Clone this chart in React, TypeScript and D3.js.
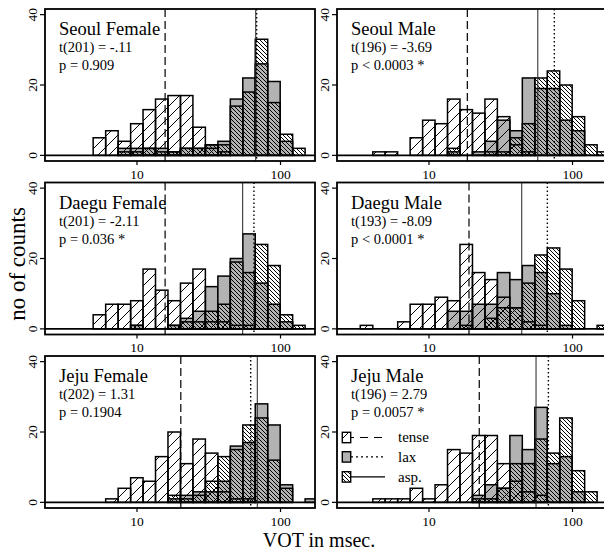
import React from 'react';
import * as d3 from 'd3';

// ---------- data ----------
const panelTitles = ["Seoul Female", "Seoul Male", "Daegu Female", "Daegu Male", "Jeju Female", "Jeju Male"];
const tStats = ["t(201) = -.11", "t(196) = -3.69", "t(201) = -2.11", "t(193) = -8.09", "t(202) = 1.31", "t(196) = 2.79"];
const pStats = ["p = 0.909", "p < 0.0003 *", "p = 0.036 *", "p < 0.0001 *", "p = 0.1904", "p = 0.0057 *"];

// histogram bin edges (msec, equal width on a log scale)
const binEdges = [3.32, 4.06, 4.95, 6.05, 7.39, 9.03, 11.02, 13.46, 16.44, 20.09, 24.53, 29.96, 36.60, 44.70, 54.60, 66.69, 81.45, 99.48, 121.5, 148.4, 181.3];

const seoulFemaleTense = [0, 0, 5, 7, 4, 9, 13, 16, 17, 17, 8, 2, 1, 0, 0, 0, 0, 0, 0, 0];
const seoulFemaleLax = [0, 0, 0, 0, 2, 2, 2, 2, 1, 2, 2, 3, 4, 16, 22, 26, 21, 4, 0, 0];
const seoulFemaleAsp = [0, 0, 0, 0, 1, 1, 2, 1, 1, 2, 2, 3, 3, 14, 18, 33, 15, 6, 2, 0];

const seoulMaleTense = [0, 1, 1, 0, 5, 10, 9, 16, 13, 12, 16, 11, 3, 1, 0, 0, 0, 0, 0, 0];
const seoulMaleLax = [0, 0, 0, 0, 0, 0, 0, 1, 0, 1, 4, 10, 7, 22, 19, 19, 10, 7, 0, 0];
const seoulMaleAsp = [0, 0, 0, 0, 0, 0, 0, 2, 0, 0, 1, 1, 5, 9, 22, 24, 20, 11, 3, 1];

const daeguFemaleTense = [0, 0, 4, 7, 7, 8, 17, 11, 8, 13, 17, 2, 2, 1, 1, 0, 0, 0, 0, 0];
const daeguFemaleLax = [0, 0, 0, 0, 0, 1, 0, 0, 1, 3, 5, 12, 15, 20, 27, 13, 7, 2, 0, 0];
const daeguFemaleAsp = [0, 0, 0, 0, 0, 1, 0, 0, 1, 2, 2, 5, 7, 19, 16, 24, 18, 4, 1, 0];

const daeguMaleTense = [1, 0, 0, 2, 7, 7, 9, 8, 24, 16, 14, 9, 6, 2, 1, 0, 0, 0, 0, 0];
const daeguMaleLax = [0, 0, 0, 0, 0, 0, 0, 5, 5, 7, 7, 16, 14, 18, 16, 10, 1, 0, 0, 0];
const daeguMaleAsp = [0, 0, 0, 0, 0, 0, 0, 0, 1, 0, 3, 6, 6, 13, 21, 23, 17, 8, 0, 1];

const jejuFemaleTense = [0, 0, 0, 1, 4, 7, 6, 13, 20, 11, 18, 14, 3, 1, 1, 0, 0, 0, 0, 0];
const jejuFemaleLax = [0, 0, 0, 0, 0, 0, 0, 0, 1, 2, 3, 3, 6, 16, 17, 28, 22, 5, 0, 1];
const jejuFemaleAsp = [0, 0, 0, 0, 0, 0, 0, 0, 2, 1, 2, 6, 13, 15, 22, 24, 12, 4, 0, 0];

const jejuMaleTense = [0, 1, 1, 1, 4, 1, 5, 15, 14, 19, 19, 11, 6, 3, 2, 0, 0, 0, 0, 0];
const jejuMaleLax = [0, 0, 0, 0, 0, 0, 0, 0, 0, 2, 5, 4, 19, 15, 27, 11, 13, 3, 0, 0];
const jejuMaleAsp = [0, 0, 0, 0, 0, 0, 0, 0, 0, 1, 1, 4, 11, 11, 18, 14, 24, 9, 3, 0];

const tenseCounts = [seoulFemaleTense, seoulMaleTense, daeguFemaleTense, daeguMaleTense, jejuFemaleTense, jejuMaleTense];
const laxCounts = [seoulFemaleLax, seoulMaleLax, daeguFemaleLax, daeguMaleLax, jejuFemaleLax, jejuMaleLax];
const aspCounts = [seoulFemaleAsp, seoulMaleAsp, daeguFemaleAsp, daeguMaleAsp, jejuFemaleAsp, jejuMaleAsp];

// group means (msec)
const tenseMeans = [15.7, 18.5, 15.7, 19.0, 20.2, 22.4];
const laxMeans = [68.2, 74.7, 65.3, 66.8, 62.0, 67.9];
const aspMeans = [67.2, 57.3, 54.5, 44.3, 68.9, 55.7];

const xTicks = [10, 100];
const yTicks = [0, 20, 40];
const legendLabels = ["tense", "lax", "asp."];

// ---------- layout ----------
const W = 604, H = 551;
const colX = [45, 337];
const rowY = [9, 182.5, 356];
const boxW = 270, boxH = 152;
const FONT = '"Liberation Serif", "Times New Roman", serif';
const GRAY = '#b3b3b3';

function Panel({ idx }: { idx: number }) {
  const col = idx % 2, row = Math.floor(idx / 2);
  const bx = colX[col], by = rowY[row];
  const x = d3.scaleLog().domain([2.286, 173.9]).range([bx, bx + boxW]);
  const y = d3.scaleLinear().domain([-1.6, 41.6]).range([by + boxH, by]);
  const clipId = `clip${idx}`;
  const bars = (counts: number[], fill: string, key: string) =>
    counts.map((c, i) =>
      c > 0 ? (
        <rect key={key + i} x={x(binEdges[i])} y={y(c)} width={x(binEdges[i + 1]) - x(binEdges[i])}
          height={y(0) - y(c)} fill={fill} stroke="#000" strokeWidth={1.5} />
      ) : null
    );
  return (
    <g>
      <defs>
        <clipPath id={clipId}><rect x={bx} y={by} width={boxW} height={boxH} /></clipPath>
      </defs>
      <g clipPath={`url(#${clipId})`}>
        {bars(laxCounts[idx], GRAY, 'l')}
        {bars(tenseCounts[idx], 'url(#hTense)', 't')}
        {bars(aspCounts[idx], 'url(#hAsp)', 'a')}
        <line x1={bx} x2={bx + boxW} y1={y(0)} y2={y(0)} stroke="#000" strokeWidth={1.9} />
        <line x1={x(tenseMeans[idx])} x2={x(tenseMeans[idx])} y1={by} y2={by + boxH} stroke="#000" strokeWidth={1.2} strokeDasharray="8,4" />
        <line x1={x(laxMeans[idx])} x2={x(laxMeans[idx])} y1={by} y2={by + boxH} stroke="#000" strokeWidth={1.4} strokeDasharray="1.4,2.6" />
        <line x1={x(aspMeans[idx])} x2={x(aspMeans[idx])} y1={by} y2={by + boxH} stroke="#222" strokeWidth={1} />
      </g>
      <rect x={bx} y={by} width={boxW} height={boxH} fill="none" stroke="#000" strokeWidth={1.8} />
      {yTicks.map(t => (
        <g key={'y' + t}>
          <line x1={bx - 5} x2={bx} y1={y(t)} y2={y(t)} stroke="#000" strokeWidth={1.2} />
          <text transform={`translate(${bx - 8.5},${y(t)}) rotate(-90)`} textAnchor="middle" fontFamily={FONT} fontSize={13.5}>{t}</text>
        </g>
      ))}
      {xTicks.map(t => (
        <g key={'x' + t}>
          <line x1={x(t)} x2={x(t)} y1={by + boxH} y2={by + boxH + 4} stroke="#000" strokeWidth={1.2} />
          <text x={x(t)} y={by + boxH + 17.8} textAnchor="middle" fontFamily={FONT} fontSize={13.5}>{t}</text>
        </g>
      ))}
      <text x={bx + 14} y={by + 26} fontFamily={FONT} fontSize={18.5}>{panelTitles[idx]}</text>
      <text x={bx + 14} y={by + 43.3} fontFamily={FONT} fontSize={14.5}>{tStats[idx]}</text>
      <text x={bx + 14} y={by + 61} fontFamily={FONT} fontSize={14.5}>{pStats[idx]}</text>
    </g>
  );
}

function Legend() {
  const bx = colX[1], by = rowY[2];
  const fills = ['url(#hTense)', GRAY, 'url(#hAsp)'];
  const dashes = ['8,6', '2,3', undefined];
  const boxTops = [76.3, 95.7, 115.7];
  return (
    <g>
      {legendLabels.map((lab, i) => (
        <g key={lab}>
          <line x1={bx + 9} x2={bx + 48} y1={by + boxTops[i] + 5.2} y2={by + boxTops[i] + 5.2} stroke="#000" strokeWidth={1.2} strokeDasharray={dashes[i]} />
          <rect x={bx + 5.3} y={by + boxTops[i]} width={8.4} height={10.4} fill="#fff" stroke="none" />
          <rect x={bx + 5.3} y={by + boxTops[i]} width={8.4} height={10.4} fill={fills[i]} stroke="#000" strokeWidth={1.4} />
          <text x={bx + 61} y={by + boxTops[i] + 10} fontFamily={FONT} fontSize={15}>{lab}</text>
        </g>
      ))}
    </g>
  );
}

export default function App() {
  return (
    <svg width={W} height={H} style={{ position: 'absolute', left: 0, top: 0, background: '#fff' }}>
      <defs>
        <pattern id="hTense" patternUnits="userSpaceOnUse" width={11} height={11}>
          <path d="M-1,1 l2,-2 M0,11 l11,-11 M10,12 l2,-2" stroke="#000" strokeWidth={1} />
        </pattern>
        <pattern id="hAsp" patternUnits="userSpaceOnUse" width={4} height={4}>
          <path d="M0,0 l4,4 M-1,3 l2,2 M3,-1 l2,2" stroke="#000" strokeWidth={1} />
        </pattern>
      </defs>
      <rect x={0} y={0} width={W} height={H} fill="#fff" />
      {panelTitles.map((_, i) => <Panel key={i} idx={i} />)}
      <Legend />
      <text transform={`translate(25,264) rotate(-90)`} textAnchor="middle" fontFamily={FONT} fontSize={23}>no of counts</text>
      <text x={319} y={546.6} textAnchor="middle" fontFamily={FONT} fontSize={20}>VOT in msec.</text>
    </svg>
  );
}
